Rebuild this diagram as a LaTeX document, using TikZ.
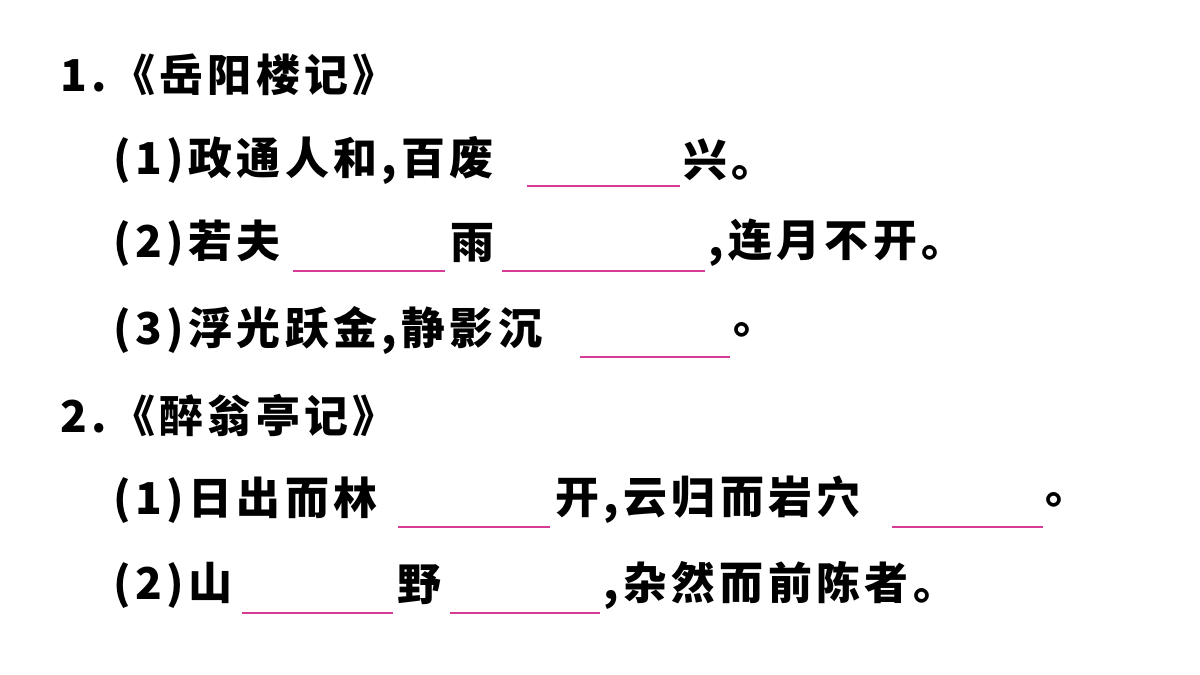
\documentclass[tikz,border=0pt]{standalone}
\usepackage{fontspec}
\newfontfamily\cjk[LetterSpace=10]{Noto Sans CJK SC}
\definecolor{blankpink}{RGB}{214,60,150}
\tikzset{
  line/.style={anchor=west, inner sep=0pt, font=\cjk\bfseries\fontsize{25}{25}\selectfont},
  head/.style={anchor=west, inner sep=0pt, font=\cjk\bfseries\fontsize{25}{25}\selectfont},
  blank/.style={blankpink, line width=.8pt}
}
\begin{document}
\begin{tikzpicture}[x=0.02cm, y=-0.02cm]
  \useasboundingbox (0,0) rectangle (1200,675);

  % first text
  \node[head] (t1) at (60,75) {1.《岳阳楼记》};
  \node[line] (a1) at (113,160) {(1)政通人和,百废};
  \node[line] (a1e) at (683,160) {兴。};
  \draw[blank] (527,186) -- (680,186);

  \node[line] (a2) at (113,243) {(2)若夫};
  \node[line] (a2m) at (450,243) {雨};
  \node[line] (a2e) at (708,243) {,连月不开。};
  \draw[blank] (293,271) -- (445,271);
  \draw[blank] (502,271) -- (705,271);

  \node[line] (a3) at (113,330) {(3)浮光跃金,静影沉};
  \node[line] (a3e) at (733,330) {。};
  \draw[blank] (580,357) -- (730,357);

  % second text
  \node[head] (t2) at (60,415) {2.《醉翁亭记》};
  \node[line] (b1) at (113,500) {(1)日出而林};
  \node[line] (b1m) at (555,500) {开,云归而岩穴};
  \node[line] (b1e) at (1045,500) {。};
  \draw[blank] (398,527) -- (550,527);
  \draw[blank] (892,527) -- (1043,527);

  \node[line] (b2) at (113,585) {(2)山};
  \node[line] (b2m) at (397,585) {野};
  \node[line] (b2e) at (603,585) {,杂然而前陈者。};
  \draw[blank] (242,613) -- (393,613);
  \draw[blank] (450,613) -- (600,613);
\end{tikzpicture}
\end{document}
